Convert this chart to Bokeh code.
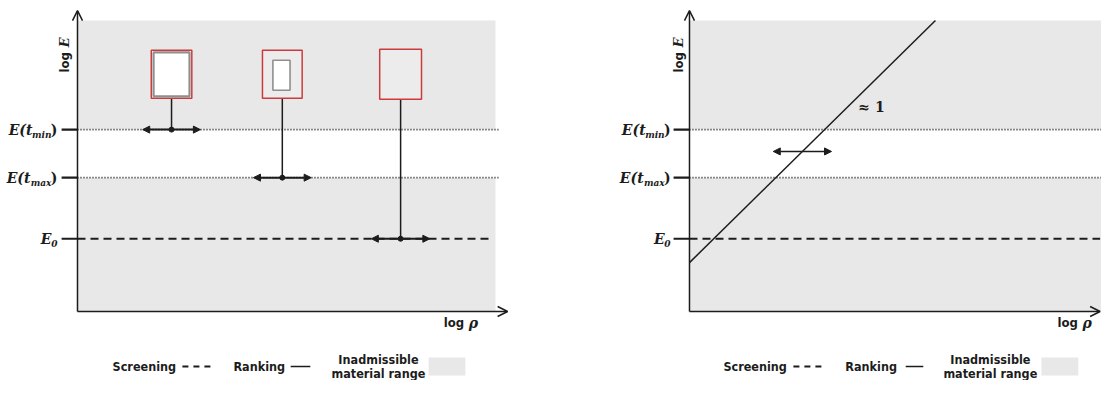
import math
from bokeh.plotting import figure
from bokeh.layouts import row
from bokeh.models import Range1d, Arrow, OpenHead, NormalHead, ColumnDataSource
from bokeh.core.properties import value
from bokeh.embed import file_html
from bokeh.resources import INLINE

# ---- schematic data (x: log rho, y: log E, both in arbitrary units 0..10) ----
E0 = 2.5
E_tmax = 4.6
E_tmin = 6.25
level_values = [E_tmin, E_tmax, E0]
level_main = ["E(t", "E(t", "E"]
level_sub = ["min", "max", "0"]
level_close = [")", ")", ""]

# left panel: three material cells and their admissible density ranges
cell_x = [2.25, 4.9, 7.73]
cell_y = [8.15, 8.15, 8.15]
cell_w = [0.97, 0.95, 1.0]
cell_h = [1.65, 1.65, 1.72]
cell_level = [E_tmin, E_tmax, E0]
cell_fill = ["#ffffff", "#ececec", "#ececec"]
inner_x = [2.25, 4.88]
inner_y = [8.15, 8.12]
inner_w = [0.86, 0.41]
inner_h = [1.51, 1.03]
range_half = [0.69, 0.69, 0.70]

# right panel: ranking trend line with slope ~ 1
trend_x = [0.0, 5.87]
trend_y = [1.68, 10.0]
slope_text = "≈ 1"
slope_pos = (4.03, 7.04)
rank_range_x = [2.0, 3.39]
rank_range_y = 5.5

GREY = "#e8e8e8"
INK = "#1c1c1c"
SERIF = value("DejaVu Serif")
SANS = value("DejaVu Sans Condensed")


def make_panel(width, x0, x1):
    p = figure(width=width, height=380, x_range=Range1d(x0, x1),
               y_range=Range1d(-2.371, 10.687), output_backend="svg",
               toolbar_location=None, x_axis_location=None, y_axis_location=None,
               min_border=0, outline_line_color=None,
               background_fill_color="white", border_fill_color="white")
    p.grid.visible = False
    return p


def common(p, axis_end_x, dotted_end, dashed_end, label_x, logE_x, logrho_x, leg):
    # inadmissible region (grey), admissible band white
    p.quad(left=[0, 0], right=[10, 10], bottom=[0, E_tmin], top=[E_tmax, 10],
           fill_color=GREY, line_color=None)
    # screening/ranking levels
    p.segment(x0=[0, 0], x1=[dotted_end] * 2, y0=[E_tmin, E_tmax], y1=[E_tmin, E_tmax],
              line_color=INK, line_width=1.6, line_dash="1 2")
    p.segment(x0=[0], x1=[dashed_end], y0=[E0], y1=[E0],
              line_color=INK, line_width=2, line_dash="8 5")
    # ticks
    p.segment(x0=[-0.38] * 3, x1=[0] * 3, y0=level_values, y1=level_values,
              line_color=INK, line_width=2.2)
    # axes arrows
    p.add_layout(Arrow(end=OpenHead(size=10, line_width=1.5, line_color=INK),
                       x_start=0, y_start=0, x_end=0, y_end=10.34,
                       line_width=1.5, line_color=INK))
    p.add_layout(Arrow(end=OpenHead(size=10, line_width=1.5, line_color=INK),
                       x_start=0, y_start=0, x_end=axis_end_x, y_end=0,
                       line_width=1.5, line_color=INK))
    # tick labels
    n = len(level_values)
    lx = [label_x] * n
    p.text(x=lx, y=level_values, text=level_close, text_font=SERIF,
           text_font_size="14px", text_font_style="bold", text_align="right",
           text_baseline="middle", text_color=INK)
    p.text(x=lx, y=level_values, text=level_sub, text_font=SERIF,
           text_font_size="9px", text_font_style="bold italic", text_align="right",
           text_baseline="middle", x_offset=[-6, -6, 0], y_offset=[5, 5, 5], text_color=INK)
    p.text(x=lx, y=level_values, text=level_main, text_font=SERIF,
           text_font_size="14px", text_font_style="bold italic", text_align="right",
           text_baseline="middle", x_offset=[-25, -27, -6], text_color=INK)
    # axis titles
    p.text(x=[logE_x], y=[8.56], text=["log"], text_font=SANS, text_font_size="13px",
           text_font_style="bold", angle=math.pi / 2, text_align="center",
           text_baseline="middle", text_color=INK)
    p.text(x=[logE_x], y=[9.25], text=["E"], text_font=SERIF, text_font_size="13px",
           text_font_style="bold italic", angle=math.pi / 2, text_align="center",
           text_baseline="middle", text_color=INK)
    p.text(x=[logrho_x], y=[-0.38], text=["log"], text_font=SANS, text_font_size="13px",
           text_font_style="bold", text_align="left", text_baseline="middle", text_color=INK)
    p.text(x=[logrho_x], y=[-0.38], text=["ρ"], text_font=SERIF, text_font_size="14px",
           text_font_style="bold italic", text_align="left", text_baseline="middle",
           x_offset=25, text_color=INK)
    # legend
    scr_x, dash_x, rank_x, line_x, inad_x, box_x = leg
    ly = -1.89
    p.text(x=[scr_x, rank_x], y=[ly, ly], text=["Screening", "Ranking"], text_font=SANS,
           text_font_size="12.5px", text_font_style="bold", text_align="left",
           text_baseline="middle", text_color=INK)
    p.segment(x0=[dash_x[0]], x1=[dash_x[1]], y0=[ly], y1=[ly], line_color=INK,
              line_width=2, line_dash="6 5")
    p.segment(x0=[line_x[0]], x1=[line_x[1]], y0=[ly], y1=[ly], line_color=INK,
              line_width=1.5)
    p.text(x=[inad_x, inad_x], y=[-1.65, -2.13], text=["Inadmissible", "material range"],
           text_font=SANS, text_font_size="12.5px", text_font_style="bold",
           text_align="center", text_baseline="middle", text_color=INK)
    p.quad(left=[box_x[0]], right=[box_x[1]], bottom=[-2.20], top=[-1.58],
           fill_color=GREY, line_color=None)


# ---------------- left panel ----------------
p1 = make_panel(550, -1.842, 11.316)
common(p1, 10.29, 10.07, 9.9, -0.48, -0.3, 8.76,
       (0.84, (2.51, 3.18), 3.73, (5.10, 5.57), 7.2, (8.40, 9.28)))
cell_bottom = [y - h / 2 for y, h in zip(cell_y, cell_h)]
p1.segment(x0=cell_x, x1=cell_x, y0=cell_bottom, y1=cell_level, line_color=INK, line_width=1.5)
p1.rect(x=cell_x, y=cell_y, width=cell_w, height=cell_h, fill_color=cell_fill,
        line_color="#cc3b3b", line_width=1.5)
p1.rect(x=inner_x, y=inner_y, width=inner_w, height=inner_h, fill_color="white",
        line_color="#8f8f8f", line_width=[2.2, 1.6])
rng = ColumnDataSource(dict(x0=[c - h for c, h in zip(cell_x, range_half)],
                            x1=[c + h for c, h in zip(cell_x, range_half)],
                            y=cell_level))
p1.add_layout(Arrow(start=NormalHead(size=7, fill_color=INK, line_color=INK),
                    end=NormalHead(size=7, fill_color=INK, line_color=INK),
                    x_start="x0", x_end="x1", y_start="y", y_end="y", source=rng,
                    line_width=2, line_color=INK))
p1.scatter(x=cell_x, y=cell_level, size=5, color=INK)

# ---------------- right panel ----------------
p2 = make_panel(551, -3.317, 9.833)
common(p2, 9.8, 10.0, 9.8, -0.45, -0.27, 8.78,
       (0.81, (2.48, 3.20), 3.72, (5.16, 5.58), 7.18, (8.40, 9.28)))
p2.line(x=trend_x, y=trend_y, line_color=INK, line_width=1.5)
p2.text(x=[slope_pos[0]], y=[slope_pos[1]], text=[slope_text], text_font=SERIF,
        text_font_size="14px", text_font_style="bold", text_align="left",
        text_baseline="middle", text_color=INK)
p2.add_layout(Arrow(start=NormalHead(size=7, fill_color=INK, line_color=INK),
                    end=NormalHead(size=7, fill_color=INK, line_color=INK),
                    x_start=rank_range_x[0], x_end=rank_range_x[1],
                    y_start=rank_range_y, y_end=rank_range_y,
                    line_width=1.5, line_color=INK))

layout = row(p1, p2)
open("out.html", "w").write(file_html(layout, INLINE))
